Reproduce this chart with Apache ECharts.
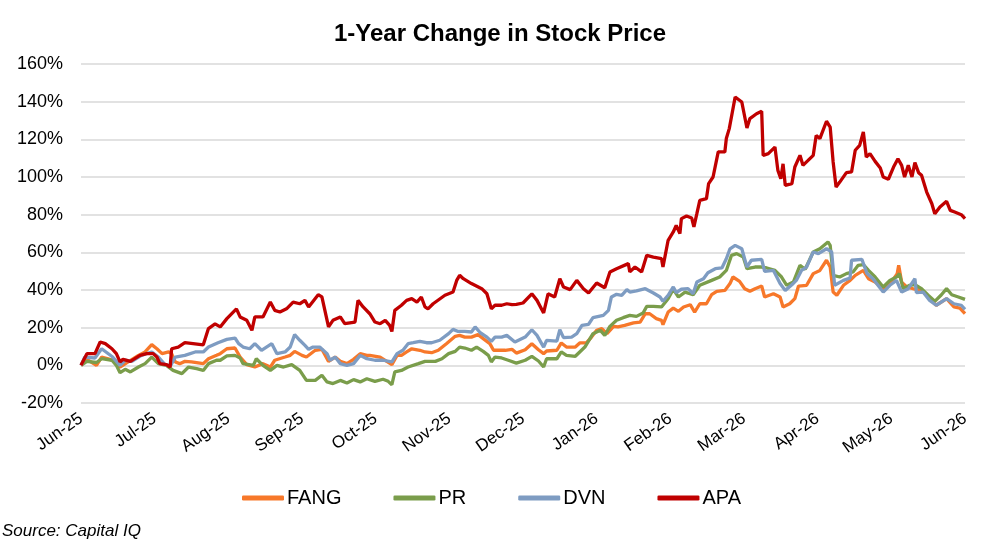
<!DOCTYPE html>
<html>
<head>
<meta charset="utf-8">
<script src="https://cdn.jsdelivr.net/npm/echarts@6/dist/echarts.min.js"></script>
<style>
  html, body { margin: 0; padding: 0; background: #fff; }
  #chart { width: 1000px; height: 544px; }
</style>
</head>
<body>
<div id="chart"></div>
<script>
// x = months since Jun-25, y = % change
var months = ['Jun-25','Jul-25','Aug-25','Sep-25','Oct-25','Nov-25','Dec-25',
              'Jan-26','Feb-26','Mar-26','Apr-26','May-26','Jun-26'];

var FANG = [[0,0],[0.08,3.2],[0.21,0],[0.28,4.4],[0.37,3.5],[0.46,2.1],[0.53,-0.9],[0.64,1.8],
  [0.78,5.3],[0.87,7.1],[0.96,11],[1.03,8.8],[1.10,6.2],[1.19,7.1],[1.23,6.2],[1.28,1.8],
  [1.34,0.9],[1.41,2.1],[1.50,1.8],[1.66,0.9],[1.73,3.5],[1.84,5.3],[1.89,6.2],[1.98,8.8],
  [2.09,9.2],[2.16,4.4],[2.25,0.4],[2.36,-0.9],[2.47,0.9],[2.57,-0.9],[2.63,2.7],[2.77,4.4],
  [2.84,5.3],[2.90,7.4],[3.00,5.3],[3.06,4.4],[3.18,8],[3.27,8.5],[3.36,2.1],[3.45,4.4],
  [3.52,2.1],[3.61,0.9],[3.70,3.2],[3.79,6.2],[3.88,5.3],[3.92,5.3],[4.06,4.4],[4.22,0.4],
  [4.29,5.3],[4.35,5.3],[4.42,7.1],[4.49,8.8],[4.60,8],[4.67,7.1],[4.76,6.7],[4.85,8],
  [4.96,11.5],[5.08,15.4],[5.14,15.9],[5.21,15],[5.30,15],[5.39,16.3],[5.46,14.2],[5.55,11.5],
  [5.60,8],[5.76,8],[5.85,8.5],[5.91,6.5],[6.03,8.3],[6.12,11.5],[6.21,8.3],[6.28,6.2],
  [6.32,7.6],[6.46,8],[6.52,11.9],[6.59,9.7],[6.71,9.7],[6.77,11.9],[6.86,11.9],[6.93,15],
  [7.00,18.6],[7.07,19.5],[7.14,16.8],[7.23,20.7],[7.29,20.4],[7.38,21.2],[7.50,22.5],[7.59,23],
  [7.66,27.4],[7.72,27.4],[7.81,24.8],[7.88,23.9],[7.90,21.6],[7.97,28.3],[8.04,30.4],[8.11,28.7],
  [8.18,31],[8.27,32.2],[8.33,28.3],[8.40,32.7],[8.49,32.7],[8.56,37.5],[8.63,39.3],[8.74,39.8],
  [8.81,43.4],[8.85,46.9],[8.94,44.6],[9.01,40.7],[9.08,39.3],[9.15,40.7],[9.24,42.1],[9.28,36.3],
  [9.40,38],[9.49,36.3],[9.53,31],[9.62,32.7],[9.69,35.4],[9.74,42.1],[9.85,42.5],[9.94,48.7],
  [10.03,50.4],[10.12,55.8],[10.17,52.2],[10.21,38.9],[10.26,37.2],[10.35,42.5],[10.44,45.1],[10.51,47.8],
  [10.62,50.4],[10.69,46],[10.78,44.2],[10.89,40.7],[11.00,44.2],[11.08,48.7],[11.10,53.1],[11.14,44.2],
  [11.21,41.6],[11.32,40.4],[11.41,39.8],[11.52,35.4],[11.61,31.9],[11.75,35.4],[11.85,31],[11.93,30.4],
  [12.00,27.4]];

var PR = [[0,0],[0.08,2.1],[0.21,1.5],[0.28,3.5],[0.42,2.7],[0.48,0],[0.53,-3.9],[0.60,-2.1],
  [0.67,-3.5],[0.78,-0.9],[0.87,0.9],[0.96,4.4],[1.05,0.9],[1.16,0],[1.25,-2.7],[1.37,-4.4],
  [1.46,-0.9],[1.57,-1.8],[1.66,-2.7],[1.73,0.9],[1.84,2.7],[1.89,2.7],[1.98,5],[2.09,5.3],
  [2.16,3.9],[2.20,0.9],[2.34,0],[2.38,3.5],[2.47,0],[2.57,-2.7],[2.66,0],[2.75,-0.9],
  [2.86,0.4],[2.97,-2.7],[3.06,-8],[3.18,-8],[3.27,-5.3],[3.34,-8.8],[3.42,-9.7],[3.52,-8],
  [3.61,-9.4],[3.70,-7.6],[3.79,-8.8],[3.88,-7.1],[3.99,-8.5],[4.10,-7.4],[4.17,-8.5],[4.22,-10.3],
  [4.26,-3.5],[4.35,-2.7],[4.44,-0.9],[4.58,0.9],[4.67,2.1],[4.81,2.1],[4.90,3.5],[4.99,6.2],
  [5.08,7.4],[5.14,9.7],[5.21,9.2],[5.30,8],[5.37,9.7],[5.46,7.4],[5.53,5.3],[5.57,1.8],
  [5.62,4.4],[5.71,3.9],[5.80,2.7],[5.91,1.2],[6.03,2.7],[6.12,4.8],[6.21,2.3],[6.28,-0.9],
  [6.32,3.5],[6.46,3.5],[6.52,7.1],[6.59,5.3],[6.71,4.8],[6.77,7.1],[6.84,9.7],[6.95,16.8],
  [7.05,18.6],[7.11,15.9],[7.18,20.7],[7.27,23.9],[7.36,25.3],[7.45,26.5],[7.54,26],[7.63,27.8],
  [7.68,31.3],[7.77,31.3],[7.88,31],[7.97,35.4],[8.04,40.4],[8.11,36.3],[8.20,38.9],[8.31,37.5],
  [8.40,42.5],[8.56,45.1],[8.67,46.9],[8.76,50.4],[8.83,58.4],[8.90,59.3],[8.99,57.5],[9.04,51.3],
  [9.15,52.2],[9.24,52.2],[9.31,51.7],[9.42,50.4],[9.51,46.9],[9.58,42.5],[9.67,44.2],[9.76,53.1],
  [9.83,51],[9.94,60.2],[10.03,61.9],[10.14,65.5],[10.17,63.7],[10.21,47.8],[10.30,46.9],[10.39,48.7],
  [10.48,49.6],[10.55,53.1],[10.62,53.5],[10.69,50.4],[10.78,46.9],[10.89,41.6],[10.98,45.1],[11.07,46.9],
  [11.11,48.7],[11.16,40.7],[11.25,42.5],[11.32,42.8],[11.41,40.7],[11.50,37.2],[11.59,34],[11.68,37.5],
  [11.75,40.7],[11.82,37.5],[11.91,36.3],[12.00,35]];

var DVN = [[0,0],[0.05,4.4],[0.19,3.9],[0.28,8.8],[0.43,4.4],[0.53,0],[0.60,2.7],[0.69,2.1],
  [0.82,5.3],[0.96,7.1],[1.05,4.4],[1.14,0.4],[1.22,0],[1.28,4.4],[1.41,5.3],[1.55,7.1],
  [1.66,7.1],[1.73,9.7],[1.86,12],[1.98,13.8],[2.09,14.5],[2.14,11.5],[2.20,9.7],[2.29,8.8],
  [2.36,11.5],[2.45,8],[2.59,11.5],[2.66,6.2],[2.77,7.1],[2.84,9.7],[2.90,16.3],[2.97,13.3],
  [3.04,10.6],[3.09,8.5],[3.15,9.7],[3.24,9.7],[3.34,6.2],[3.38,2.7],[3.45,4.4],[3.52,0.9],
  [3.61,0],[3.70,0.9],[3.79,5.3],[3.88,3.5],[3.99,2.7],[4.10,2.7],[4.22,1.8],[4.29,6.2],
  [4.37,8],[4.44,11.5],[4.51,12],[4.60,12.7],[4.69,12],[4.76,12],[4.87,13.3],[4.99,16.8],
  [5.05,19.1],[5.12,18],[5.21,18],[5.30,17.7],[5.35,20.4],[5.42,17.3],[5.51,15],[5.57,12.7],
  [5.62,15],[5.71,15],[5.78,15.9],[5.89,12.4],[6.03,15],[6.12,18.9],[6.19,15.9],[6.28,9.7],
  [6.32,13.3],[6.46,12.9],[6.50,18.9],[6.55,14.7],[6.66,15],[6.73,16.8],[6.80,21.2],[6.89,21.8],
  [6.95,25.3],[7.09,26.5],[7.16,29.2],[7.20,36.3],[7.27,37.7],[7.34,37.2],[7.41,40.2],[7.45,38.9],
  [7.54,39.5],[7.66,40.7],[7.77,38.4],[7.86,36.3],[7.90,34],[7.97,37.2],[8.04,41.6],[8.08,38.6],
  [8.15,40.4],[8.24,40.7],[8.31,38],[8.36,44.2],[8.45,46],[8.51,49.2],[8.61,51.3],[8.70,51.7],
  [8.76,56.6],[8.81,61.9],[8.88,63.7],[8.97,61.9],[9.04,52.2],[9.10,55.8],[9.24,56.3],[9.28,49.9],
  [9.40,50.4],[9.49,43.4],[9.56,39.8],[9.65,42.8],[9.71,45.1],[9.78,50.4],[9.85,52.2],[9.94,60.2],
  [10.01,59.3],[10.12,61.9],[10.19,60.2],[10.23,42.5],[10.35,45.1],[10.44,46.4],[10.46,55.8],[10.60,56.3],
  [10.67,48.7],[10.75,46],[10.89,38.9],[10.98,42.5],[11.07,45.1],[11.14,38.9],[11.23,40.7],[11.32,46],
  [11.34,38.6],[11.43,38.9],[11.52,34.5],[11.61,31.9],[11.75,35.4],[11.85,32.7],[11.95,31.9],[12.00,29.7]];

var APA = [[0,0],[0.08,6.2],[0.19,6.2],[0.26,12.4],[0.33,11.5],[0.42,8.8],[0.48,6.2],[0.53,1.8],
  [0.57,3.2],[0.67,2.1],[0.80,5.3],[0.89,6.2],[0.98,6.2],[1.03,4.4],[1.07,0.9],[1.16,0.4],
  [1.21,-0.9],[1.23,8.8],[1.32,9.7],[1.41,12],[1.66,10.9],[1.73,19.5],[1.82,22],[1.89,20.4],
  [1.98,24.8],[2.11,30],[2.16,25.7],[2.25,23.9],[2.32,18.6],[2.36,25.7],[2.47,25.7],[2.57,33.6],
  [2.63,29.2],[2.70,28.3],[2.79,30],[2.88,33.6],[2.97,32.7],[3.04,34.5],[3.09,31],[3.22,37.5],
  [3.27,36.3],[3.36,20.4],[3.42,23.9],[3.52,25.7],[3.58,22.1],[3.72,23],[3.76,34.5],[3.83,31],
  [3.92,27.4],[3.99,23],[4.06,22.1],[4.13,23.9],[4.19,21.2],[4.22,18],[4.26,29.2],[4.35,31.9],
  [4.42,34.5],[4.49,35.4],[4.56,33.6],[4.62,36.3],[4.67,31],[4.71,30],[4.78,32.7],[4.94,37.2],
  [5.05,38.9],[5.10,45.1],[5.14,47.8],[5.19,46],[5.30,43.4],[5.44,40.7],[5.51,38],[5.57,30],
  [5.62,31.9],[5.71,31.9],[5.78,32.7],[5.85,32.2],[5.91,32.4],[6.00,33.1],[6.12,38],[6.19,34.5],
  [6.28,27.8],[6.34,38],[6.43,36.3],[6.50,46],[6.55,41.6],[6.64,40.2],[6.73,45.1],[6.82,40.7],
  [6.89,38.4],[7.00,43.7],[7.11,41.2],[7.18,49.6],[7.27,51.3],[7.43,54],[7.45,49.6],[7.52,52.2],
  [7.61,49.6],[7.68,58.4],[7.77,57.5],[7.88,56.6],[7.90,52.2],[7.97,66.4],[8.04,70.8],[8.08,74.3],
  [8.13,69.9],[8.15,77.9],[8.22,79.3],[8.29,78.2],[8.32,73.5],[8.36,80.5],[8.40,87.6],[8.49,88.5],
  [8.52,96.5],[8.58,100],[8.65,113.3],[8.74,113.3],[8.76,120.4],[8.80,125.7],[8.88,142.5],[8.97,139.8],
  [9.04,126],[9.08,131],[9.17,133.6],[9.24,134.9],[9.26,111.5],[9.33,112.4],[9.42,115.9],[9.46,103.5],
  [9.50,99.1],[9.53,107],[9.56,95.6],[9.65,96.5],[9.69,105.3],[9.76,111.5],[9.80,106.2],[9.87,108.8],
  [9.94,111.5],[9.98,122.1],[10.03,120.4],[10.12,129.6],[10.17,126.5],[10.21,108],[10.25,94.7],[10.30,97.3],
  [10.39,102.3],[10.46,102.7],[10.51,114.2],[10.57,116.8],[10.62,123.9],[10.66,110.6],[10.71,112.4],[10.78,108.3],
  [10.85,104.8],[10.89,100],[10.96,98.8],[11.03,105.3],[11.09,109.7],[11.14,106.2],[11.18,100],[11.23,106.2],
  [11.28,100],[11.32,107.6],[11.37,102.3],[11.41,100.9],[11.48,92],[11.55,85.8],[11.59,80.5],[11.66,84.1],
  [11.75,87.1],[11.80,82.3],[11.86,81.4],[11.95,80],[12.00,77.9]];

var names = ['FANG', 'PR', 'DVN', 'APA'];
var colors = ['#F7782A', '#7A9D4B', '#7E9CC2', '#C00000'];
var font = '"Liberation Sans", Arial, sans-serif';

var chart = echarts.init(document.getElementById('chart'), null, {renderer: 'canvas'});

function line(name, data) {
  return {
    name: name,
    type: 'line',
    data: data,
    showSymbol: false,
    symbol: 'none',
    lineStyle: { width: 3.3 },
    emphasis: { disabled: true }
  };
}

chart.setOption({
  animation: false,
  color: colors,
  textStyle: { fontFamily: font, color: '#000' },
  title: {
    text: '1-Year Change in Stock Price',
    left: 'center',
    top: 17,
    textStyle: { fontFamily: font, fontSize: 24, fontWeight: 'bold', color: '#000' }
  },
  grid: { left: 81, right: 35, top: 64, bottom: 141, outerBoundsMode: 'none' },
  legend: {
    data: names,
    top: 483,
    left: 237,
    icon: 'roundRect',
    itemWidth: 42,
    itemHeight: 5,
    itemGap: 52,
    textStyle: { fontFamily: font, fontSize: 20, color: '#000', padding: [0, 0, 0, -2] }
  },
  xAxis: {
    type: 'value',
    min: 0,
    max: 12,
    interval: 1,
    axisLine: { show: false },
    axisTick: { show: false },
    splitLine: { show: false },
    axisLabel: {
      rotate: 35,
      margin: 14,
      fontSize: 17,
      color: '#000',
      fontFamily: font,
      formatter: function (v) { return months[v]; }
    }
  },
  yAxis: {
    type: 'value',
    min: -20,
    max: 160,
    interval: 20,
    axisLine: { show: false },
    axisTick: { show: false },
    splitLine: { lineStyle: { color: '#D9D9D9', width: 1.5 } },
    axisLabel: {
      margin: 18,
      fontSize: 18,
      color: '#000',
      fontFamily: font,
      formatter: '{value}%'
    }
  },
  graphic: [{
    type: 'text',
    left: 2,
    top: 523,
    style: { text: 'Source: Capital IQ', font: 'italic 17px ' + font, fill: '#000' }
  }],
  series: [line('FANG', FANG), line('PR', PR), line('DVN', DVN), line('APA', APA)]
});
</script>
</body>
</html>
